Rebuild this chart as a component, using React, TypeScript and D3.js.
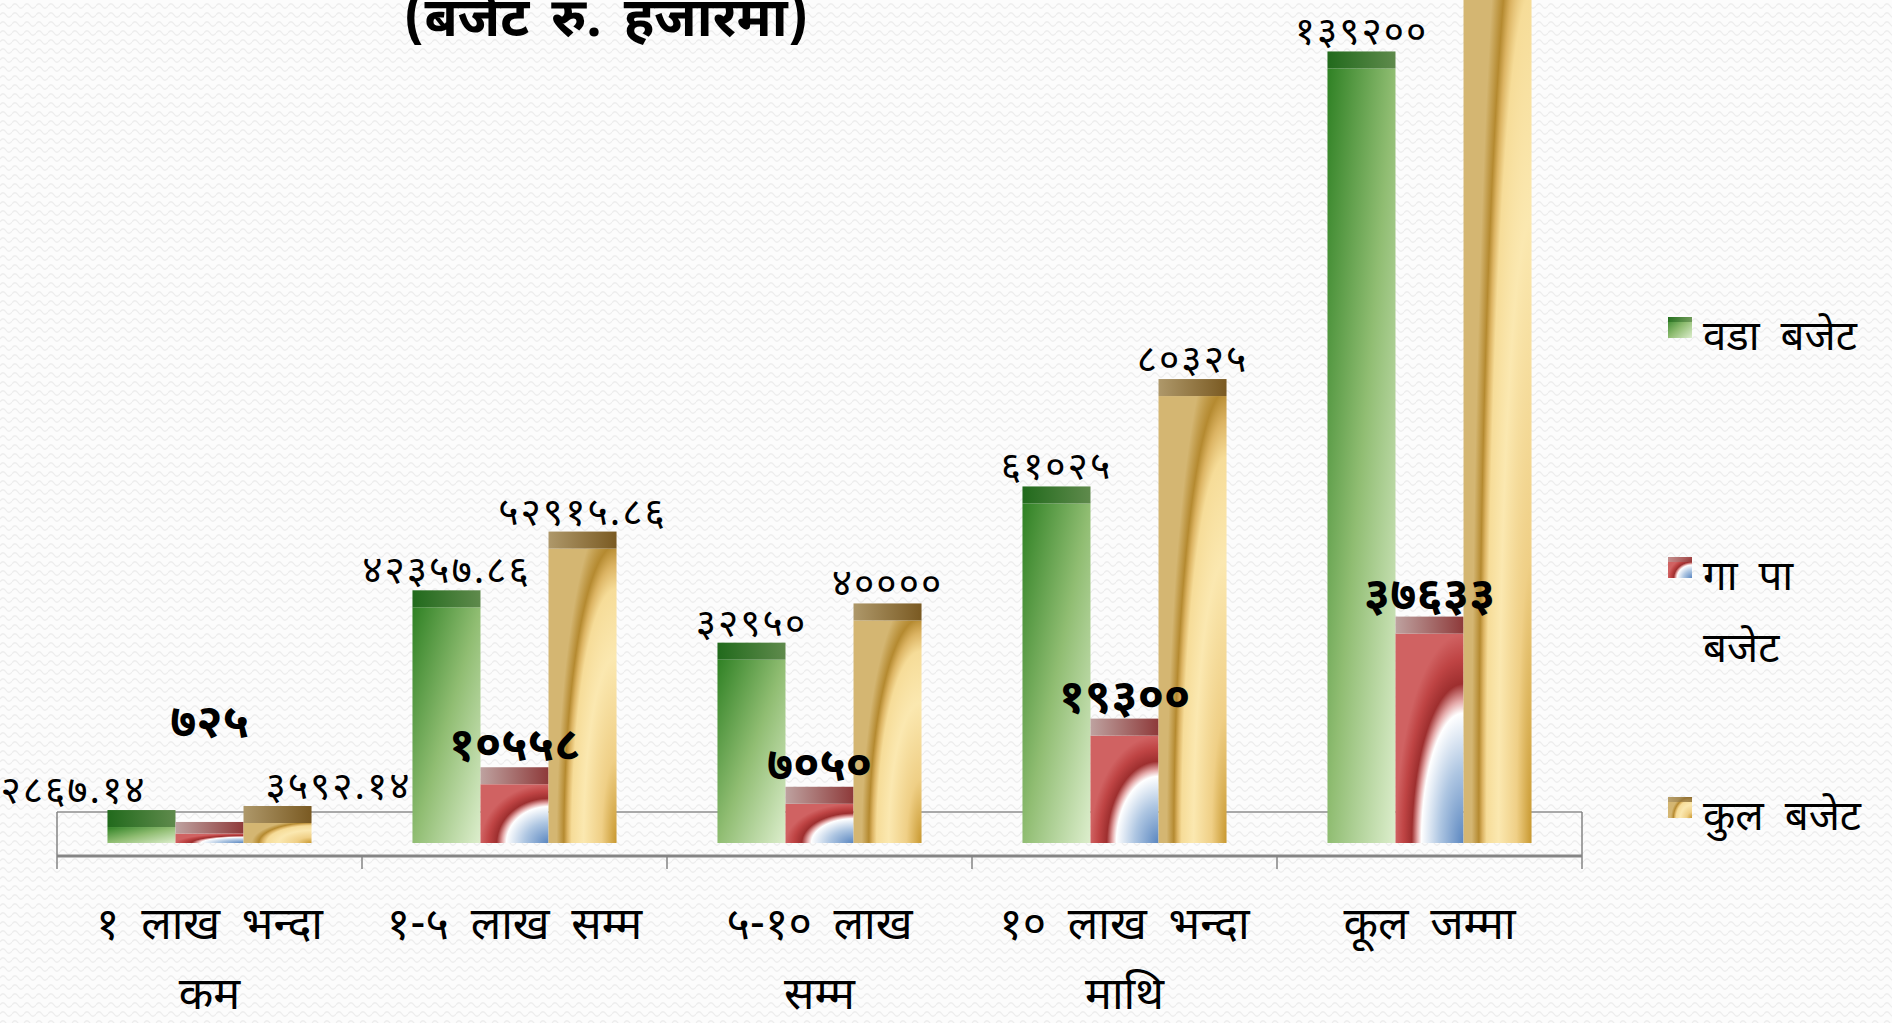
import React from 'react';
import * as d3 from 'd3';

const title = '(बजेट रु. हजारमा)';
const categoryLines: string[][] = [
  ['१ लाख भन्दा', 'कम'],
  ['१-५ लाख सम्म'],
  ['५-१० लाख', 'सम्म'],
  ['१० लाख भन्दा', 'माथि'],
  ['कूल जम्मा'],
];
const categories = categoryLines.map((l) => l.join(' '));
const seriesKeys = ['ward', 'vdc', 'total'];
const legendLines: string[][] = [['वडा बजेट'], ['गा पा', 'बजेट'], ['कुल बजेट']];
const wardBudget = [2867.14, 42357.86, 32950, 61025, 139200];
const vdcBudget = [725, 10558, 7050, 19300, 37633];
const totalBudget = [3592.14, 52915.86, 40000, 80325, 176833];
const seriesValues = [wardBudget, vdcBudget, totalBudget];

const W = 1892;
const H = 1023;
const FONT = "'Noto Sans Devanagari', 'Lohit Devanagari', Mangal, 'Noto Sans', sans-serif";

const devDigits = '०१२३४५६७८९';
const toDev = (v: number) => String(v).replace(/[0-9]/g, (d) => devDigits[+d]);

const plotLeft = 57;
const plotRight = 1582;
const floorTop = 812;
const floorBottom = 856;
const tickBottom = 869;
const barBottom = 843;
const capH = 17;

export default function App() {
  const x0 = d3.scaleBand<string>().domain(categories).range([plotLeft, plotRight]).padding(0);
  const x1 = d3
    .scaleBand<string>()
    .domain(seriesKeys)
    .range([0, x0.bandwidth()])
    .paddingInner(0)
    .paddingOuter(0.742);
  const y = d3.scaleLinear().domain([0, 140000]).range([826, 47]);

  const bodyFill = ['url(#gBody)', 'url(#rBody)', 'url(#oBody)'];
  const capFill = ['url(#gCap)', 'url(#rCap)', 'url(#oCap)'];

  // manual label adjustments (first group)
  const labelDx = (s: number, c: number) => (c === 0 ? (s === 0 ? -68 : s === 2 ? 61 : 0) : 0);
  const labelDy = (s: number, c: number) => (c === 0 && s === 1 ? -78 : 0);

  const boundaries = [...categories.map((c) => x0(c) as number), plotRight];
  const legendY = [317, 557, 797];

  return (
    <div style={{ position: 'absolute', left: 0, top: 0 }}>
      <svg width={W} height={H} style={{ display: 'block' }}>
        <defs>
          <pattern id="bg" width={12} height={9} patternUnits="userSpaceOnUse">
            <rect width={12} height={9} fill="#fcfcfc" />
            <path d="M0,6 Q3,1.5 6,6 T12,6" fill="none" stroke="#ededed" strokeWidth={1.3} />
          </pattern>
          <linearGradient id="gBody" x1="0" y1="0" x2="1" y2="1">
            <stop offset="0" stopColor="#2f8124" />
            <stop offset="0.5" stopColor="#90bd72" />
            <stop offset="1" stopColor="#ddeecd" />
          </linearGradient>
          <linearGradient id="gCap" x1="0" y1="0" x2="1" y2="0">
            <stop offset="0" stopColor="#216a1c" />
            <stop offset="1" stopColor="#5f8a4c" />
          </linearGradient>
          <radialGradient id="rBody" cx="1" cy="1" r="1" fx="1" fy="1">
            <stop offset="0" stopColor="#5a86c0" />
            <stop offset="0.35" stopColor="#aec6e2" />
            <stop offset="0.62" stopColor="#ffffff" />
            <stop offset="0.68" stopColor="#e4a8a8" />
            <stop offset="0.76" stopColor="#9e2f2f" />
            <stop offset="0.88" stopColor="#bf4444" />
            <stop offset="1" stopColor="#d06262" />
          </radialGradient>
          <linearGradient id="rCap" x1="0" y1="0" x2="1" y2="0">
            <stop offset="0" stopColor="#bea2a0" />
            <stop offset="1" stopColor="#8e3a3a" />
          </linearGradient>
          <radialGradient
            id="oBody"
            cx="1"
            cy="1"
            r="1"
            fx="1"
            fy="1"
            gradientTransform="translate(1,1) scale(0.88,1.15) translate(-1,-1)"
          >
            <stop offset="0" stopColor="#c8982f" />
            <stop offset="0.25" stopColor="#efcf86" />
            <stop offset="0.55" stopColor="#fbe8b0" />
            <stop offset="0.75" stopColor="#f6dc98" />
            <stop offset="0.82" stopColor="#dcb463" />
            <stop offset="0.88" stopColor="#b58a30" />
            <stop offset="1" stopColor="#d4b672" />
          </radialGradient>
          <linearGradient id="oCap" x1="0" y1="0" x2="1" y2="0">
            <stop offset="0" stopColor="#ae986a" />
            <stop offset="1" stopColor="#7a5a22" />
          </linearGradient>
        </defs>

        <rect x={0} y={0} width={W} height={H} fill="url(#bg)" />

        {/* title */}
        <text
          x={606}
          y={36}
          textAnchor="middle"
          fontFamily={FONT}
          fontWeight="bold"
          fontSize={54}
          fill="#000"
          style={{ wordSpacing: '8px' }}
        >
          {title}
        </text>

        {/* floor */}
        <line x1={plotLeft} x2={plotRight} y1={floorTop} y2={floorTop} stroke="#8e8e8e" strokeWidth={1.5} />
        <line x1={plotLeft} x2={plotRight} y1={floorBottom} y2={floorBottom} stroke="#858585" strokeWidth={3} />
        {boundaries.map((bx, i) => (
          <line
            key={'t' + i}
            x1={bx}
            x2={bx}
            y1={i === 0 || i === boundaries.length - 1 ? floorTop : floorBottom}
            y2={tickBottom}
            stroke="#858585"
            strokeWidth={1.5}
          />
        ))}

        {/* bars */}
        {categories.map((cat, c) => (
          <g key={cat}>
            {seriesKeys.map((key, s) => {
              const v = seriesValues[s][c];
              const bx = (x0(cat) as number) + (x1(key) as number);
              const bw = x1.bandwidth();
              const top = y(v);
              const h = barBottom - top;
              const ch = Math.min(capH, h * 0.55);
              return (
                <g key={key}>
                  <rect x={bx} y={top + ch} width={bw} height={h - ch} fill={bodyFill[s]} />
                  <rect x={bx} y={top} width={bw} height={ch} fill={capFill[s]} />
                </g>
              );
            })}
          </g>
        ))}

        {/* labels (a label whose bar runs past the top edge is outside the picture) */}
        {categories.map((cat, c) => (
          <g key={'l' + cat}>
            {seriesKeys.map((key, s) => {
              const v = seriesValues[s][c];
              const ly = y(v) - 7 + labelDy(s, c);
              if (ly < 0) return null;
              const cx = (x0(cat) as number) + (x1(key) as number) + x1.bandwidth() / 2;
              const bold = s === 1;
              return (
                <text
                  key={key}
                  x={cx + labelDx(s, c)}
                  y={ly}
                  textAnchor="middle"
                  fontFamily={FONT}
                  fontSize={bold ? 47 : 39}
                  fontWeight={bold ? 'bold' : 'normal'}
                  fill="#000"
                  style={{ letterSpacing: bold ? '0px' : '2px' }}
                >
                  {toDev(v)}
                </text>
              );
            })}
          </g>
        ))}

        {/* category labels */}
        {categories.map((cat, c) => (
          <text
            key={'c' + cat}
            textAnchor="middle"
            fontFamily={FONT}
            fontSize={45}
            fill="#000"
            style={{ wordSpacing: '10px' }}
          >
            {categoryLines[c].map((line, i) => (
              <tspan key={i} x={(x0(cat) as number) + x0.bandwidth() / 2} y={939 + i * 70}>
                {line}
              </tspan>
            ))}
          </text>
        ))}

        {/* legend */}
        {legendLines.map((lines, s) => {
          const ly = legendY[s];
          return (
            <g key={'lg' + s}>
              <rect x={1668} y={ly} width={24} height={21} fill={bodyFill[s]} />
              <rect x={1668} y={ly} width={24} height={5} fill={capFill[s]} opacity={0.7} />
              <text fontFamily={FONT} fontSize={42} fill="#000" style={{ wordSpacing: '10px' }}>
                {lines.map((line, i) => (
                  <tspan key={i} x={1703} y={ly + 33 + i * 72}>
                    {line}
                  </tspan>
                ))}
              </text>
            </g>
          );
        })}
      </svg>
    </div>
  );
}
